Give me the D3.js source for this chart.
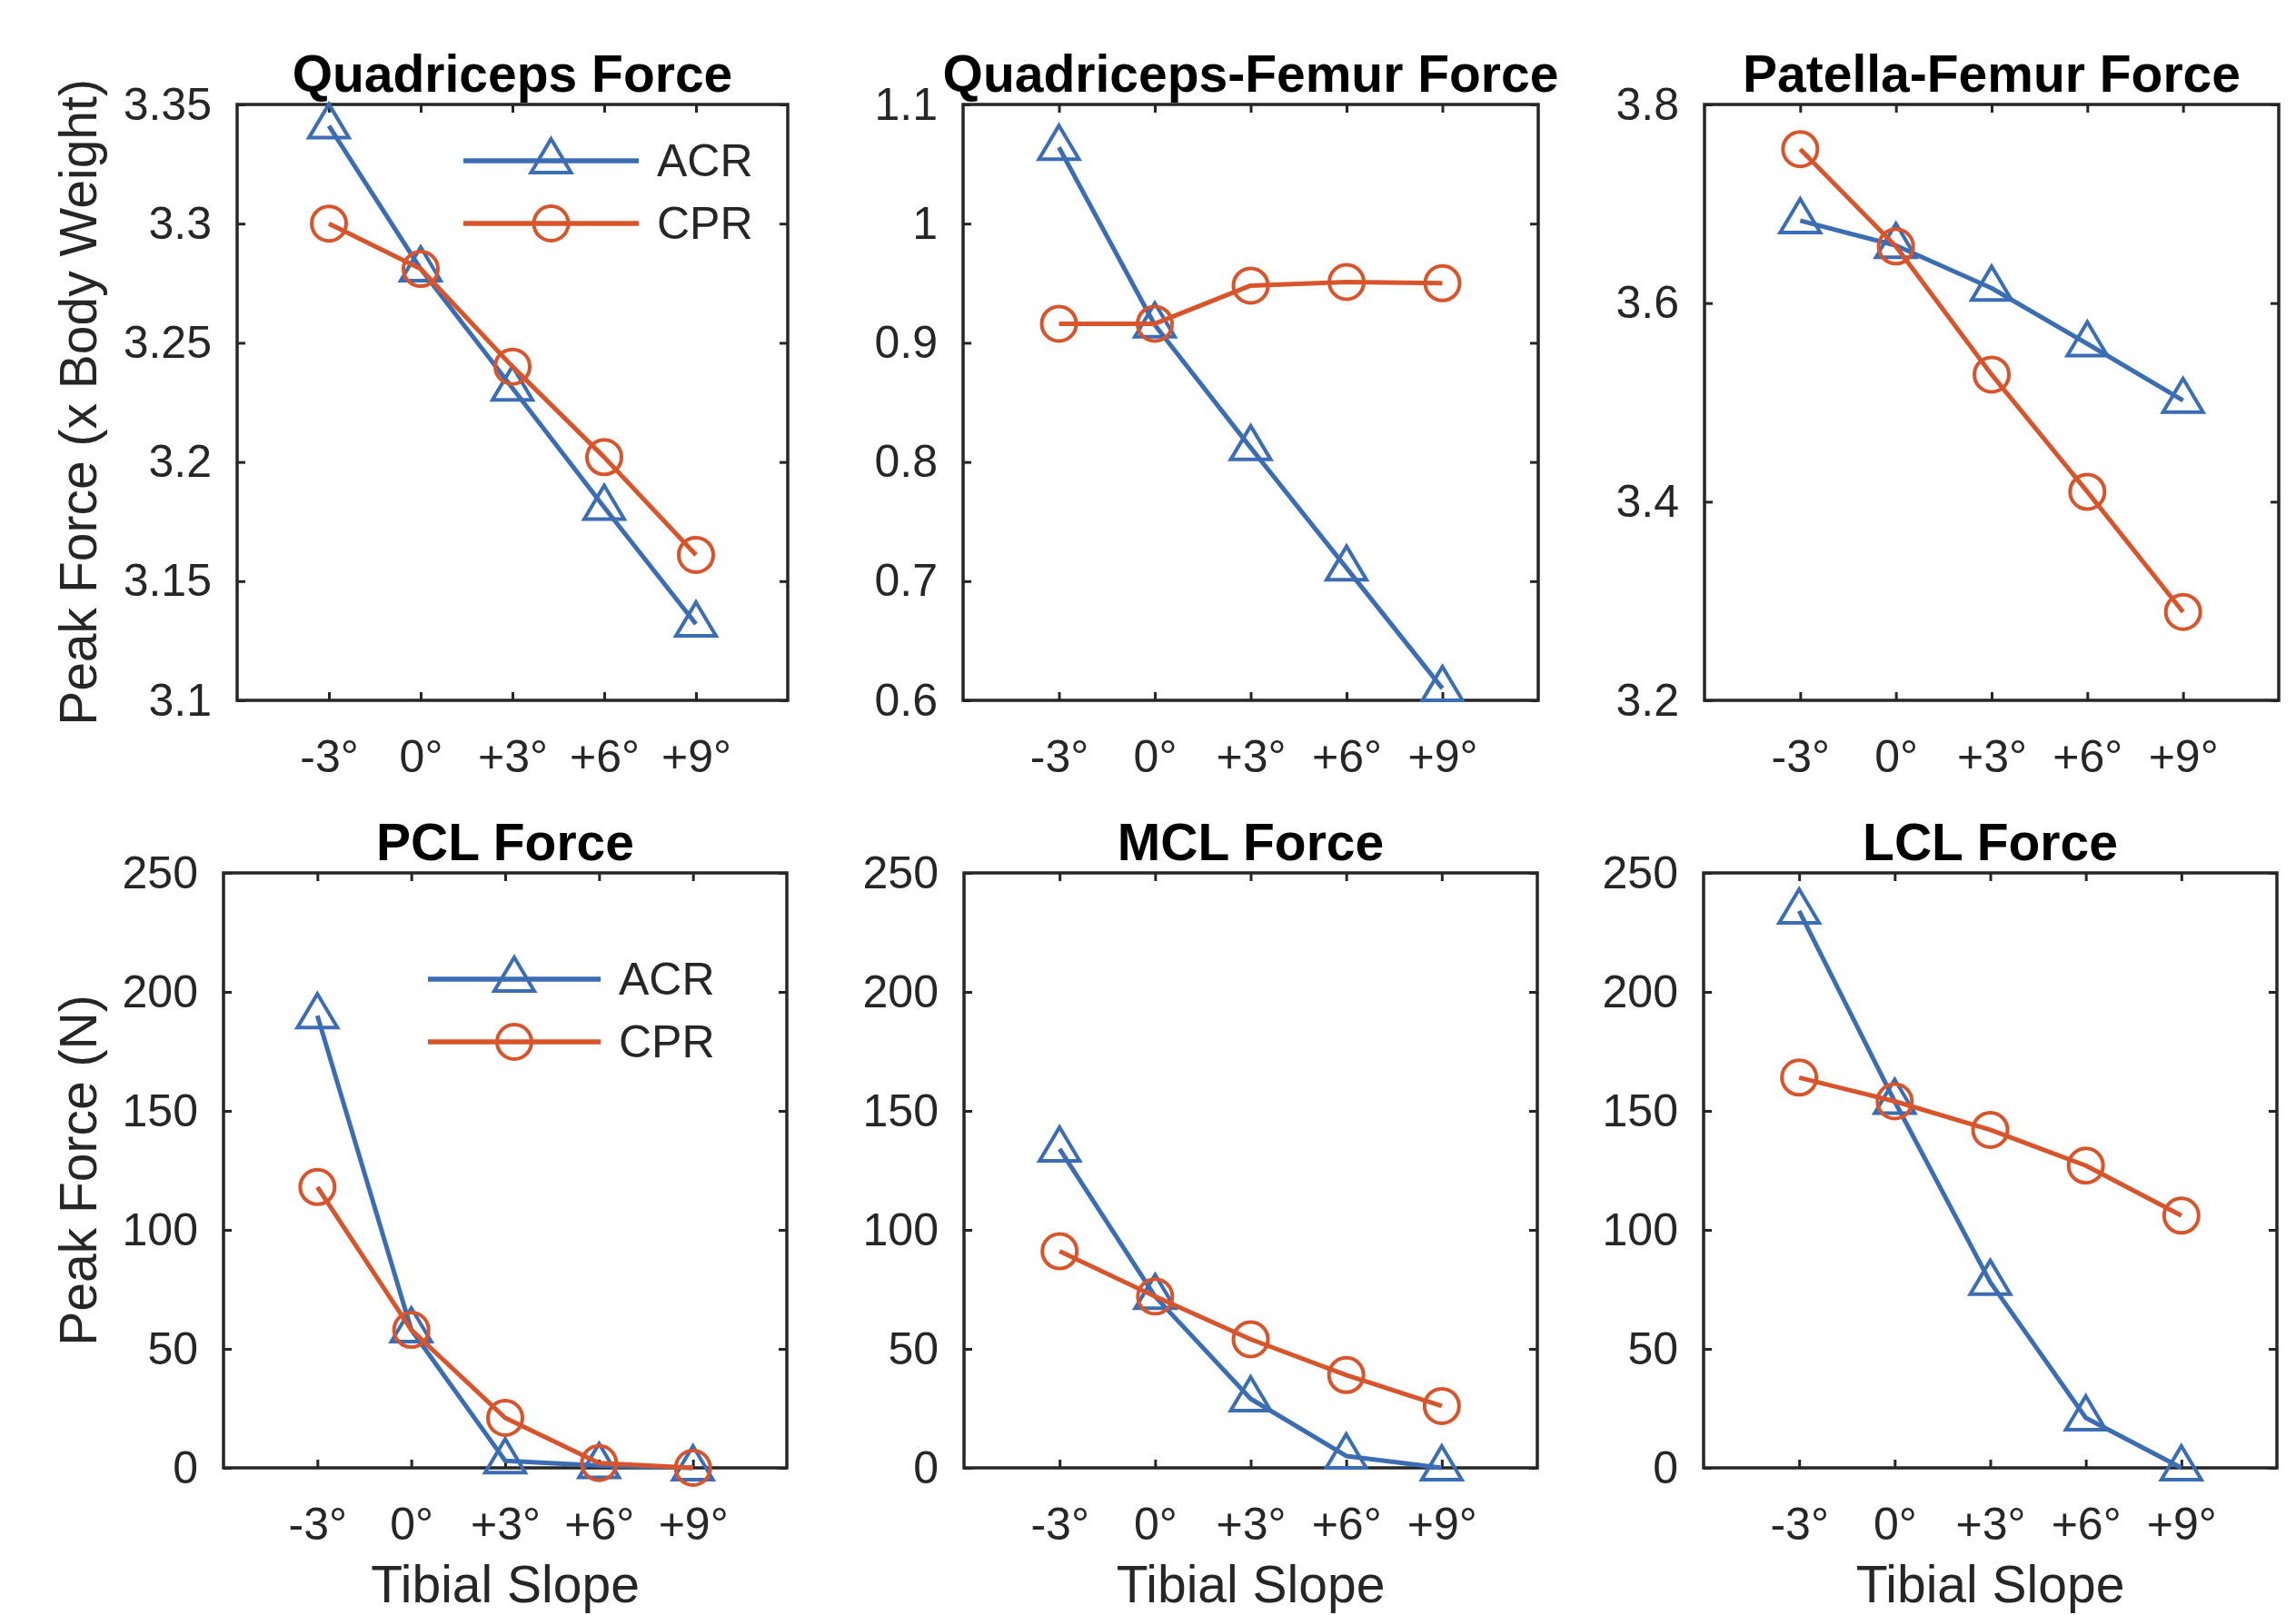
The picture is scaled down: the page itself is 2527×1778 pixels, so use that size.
<!DOCTYPE html>
<html>
<head>
<meta charset="utf-8">
<script src="https://cdn.jsdelivr.net/npm/d3@7"></script>
<style>
  body { margin: 0; background: #fff; }
  svg { display: block; font-family: "Liberation Sans", Arial, sans-serif; }
</style>
</head>
<body>
<svg id="chart" width="2527" height="1778"></svg>
<script>
// tibial slope categories
const slopeLabels = ["-3°", "0°", "+3°", "+6°", "+9°"];
const seriesNames = ["ACR", "CPR"];

// peak forces
const quadACR = [3.341, 3.281, 3.231, 3.181, 3.132];
const quadCPR = [3.300, 3.281, 3.240, 3.202, 3.161];
const qfACR = [1.064, 0.915, 0.812, 0.711, 0.610];
const qfCPR = [0.916, 0.916, 0.948, 0.951, 0.950];
const pfACR = [3.683, 3.658, 3.615, 3.559, 3.502];
const pfCPR = [3.755, 3.657, 3.528, 3.410, 3.289];
const pclACR = [190, 58, 3, 1, 0];
const pclCPR = [118, 58, 21, 2, 0];
const mclACR = [134, 72, 29, 5, 0];
const mclCPR = [91, 72, 54, 39, 26];
const lclACR = [234, 154, 78, 21, 0];
const lclCPR = [164, 154, 142, 127, 106];

// y tick values
const quadTicks = [3.1, 3.15, 3.2, 3.25, 3.3, 3.35];
const qfTicks = [0.6, 0.7, 0.8, 0.9, 1, 1.1];
const pfTicks = [3.2, 3.4, 3.6, 3.8];
const ligTicks = [0, 50, 100, 150, 200, 250];

const titles = ["Quadriceps Force", "Quadriceps-Femur Force", "Patella-Femur Force",
                "PCL Force", "MCL Force", "LCL Force"];

const blue = "#3b6db5", orange = "#d9542a", ink = "#262626";

const panels = [
  {title: titles[0], acr: quadACR, cpr: quadCPR, ticks: quadTicks, box: [261, 115, 867, 771], ylabel: "Peak Force (x Body Weight)", legend: [510, 703, 177]},
  {title: titles[1], acr: qfACR, cpr: qfCPR, ticks: qfTicks, box: [1060, 115, 1693, 771]},
  {title: titles[2], acr: pfACR, cpr: pfCPR, ticks: pfTicks, box: [1876, 115, 2508, 771]},
  {title: titles[3], acr: pclACR, cpr: pclCPR, ticks: ligTicks, box: [246, 961, 866, 1616], ylabel: "Peak Force (N)", xlabel: "Tibial Slope", legend: [471, 661, 1078]},
  {title: titles[4], acr: mclACR, cpr: mclCPR, ticks: ligTicks, box: [1061, 961, 1692, 1616], xlabel: "Tibial Slope"},
  {title: titles[5], acr: lclACR, cpr: lclCPR, ticks: ligTicks, box: [1875, 961, 2506, 1616], xlabel: "Tibial Slope"}
];

const svg = d3.select("#chart");

const triPath = "M0,-24L22,13L-22,13Z";

function marker(sel, kind, color) {
  if (kind === "ACR") {
    sel.append("path").attr("d", triPath)
      .attr("fill", "none").attr("stroke", color).attr("stroke-width", 4);
  } else {
    sel.append("circle").attr("r", 19)
      .attr("fill", "none").attr("stroke", color).attr("stroke-width", 4);
  }
}

panels.forEach(p => {
  const [x0, y0, x1, y1] = p.box;
  const width = x1 - x0, height = y1 - y0;
  const g = svg.append("g").attr("transform", "translate(" + x0 + "," + y0 + ")");

  const x = d3.scaleLinear().domain([0, 6]).range([0, width]);
  const y = d3.scaleLinear().domain(d3.extent(p.ticks)).range([height, 0]);
  const xPos = slopeLabels.map((d, i) => i + 1);

  // axes, ticks pointing inward
  const xAxis = d3.axisBottom(x).tickValues(xPos).tickSize(-9).tickPadding(43)
    .tickFormat((d, i) => slopeLabels[i]);
  const yAxis = d3.axisLeft(y).tickValues(p.ticks).tickSize(-9).tickPadding(28)
    .tickFormat(d => String(d));

  g.append("g").attr("transform", "translate(0," + height + ")").call(xAxis);
  g.append("g").call(yAxis);
  g.append("g").call(d3.axisTop(x).tickValues(xPos).tickSize(-9).tickFormat(""));
  g.append("g").attr("transform", "translate(" + width + ",0)")
    .call(d3.axisRight(y).tickValues(p.ticks).tickSize(-9).tickFormat(""));

  g.selectAll(".domain").remove();
  g.selectAll(".tick line").attr("stroke", ink).attr("stroke-width", 3);
  g.selectAll(".tick text").attr("fill", ink).style("font-size", "50px")
    .style("font-family", "'Liberation Sans', Arial, sans-serif");

  g.append("rect").attr("width", width).attr("height", height)
    .attr("fill", "none").attr("stroke", ink).attr("stroke-width", 3.5);

  // series
  const line = d3.line().x((d, i) => x(xPos[i])).y(d => y(d));
  [["ACR", p.acr, blue], ["CPR", p.cpr, orange]].forEach(([name, vals, color]) => {
    g.append("path").datum(vals).attr("d", line)
      .attr("fill", "none").attr("stroke", color).attr("stroke-width", 5)
      .attr("stroke-linejoin", "round");
    g.selectAll(".m" + name).data(vals).enter().append("g")
      .attr("class", "m" + name)
      .attr("transform", (d, i) => "translate(" + x(xPos[i]) + "," + y(d) + ")")
      .each(function() { marker(d3.select(this), name, color); });
  });

  // title
  svg.append("text").attr("x", (x0 + x1) / 2).attr("y", y0 - 14)
    .attr("text-anchor", "middle").attr("font-weight", "bold")
    .attr("font-size", 57).attr("fill", "#000").text(p.title);

  if (p.ylabel) {
    svg.append("text")
      .attr("transform", "translate(106," + (y0 + y1) / 2 + ") rotate(-90)")
      .attr("text-anchor", "middle").attr("font-size", 57).attr("fill", ink)
      .text(p.ylabel);
  }
  if (p.xlabel) {
    svg.append("text").attr("x", (x0 + x1) / 2).attr("y", 1764)
      .attr("text-anchor", "middle").attr("font-size", 57).attr("fill", ink)
      .text(p.xlabel);
  }

  // legend
  if (p.legend) {
    const [lx0, lx1, ly] = p.legend;
    seriesNames.forEach((name, i) => {
      const color = i === 0 ? blue : orange;
      const yy = ly + i * 69;
      svg.append("line").attr("x1", lx0).attr("x2", lx1).attr("y1", yy).attr("y2", yy)
        .attr("stroke", color).attr("stroke-width", 5.5);
      const mg = svg.append("g").attr("transform", "translate(" + (lx0 + lx1) / 2 + "," + yy + ")");
      marker(mg, name, color);
      svg.append("text").attr("x", lx1 + 20).attr("y", yy + 17)
        .attr("font-size", 50).attr("fill", ink).text(name);
    });
  }
});
</script>
</body>
</html>
